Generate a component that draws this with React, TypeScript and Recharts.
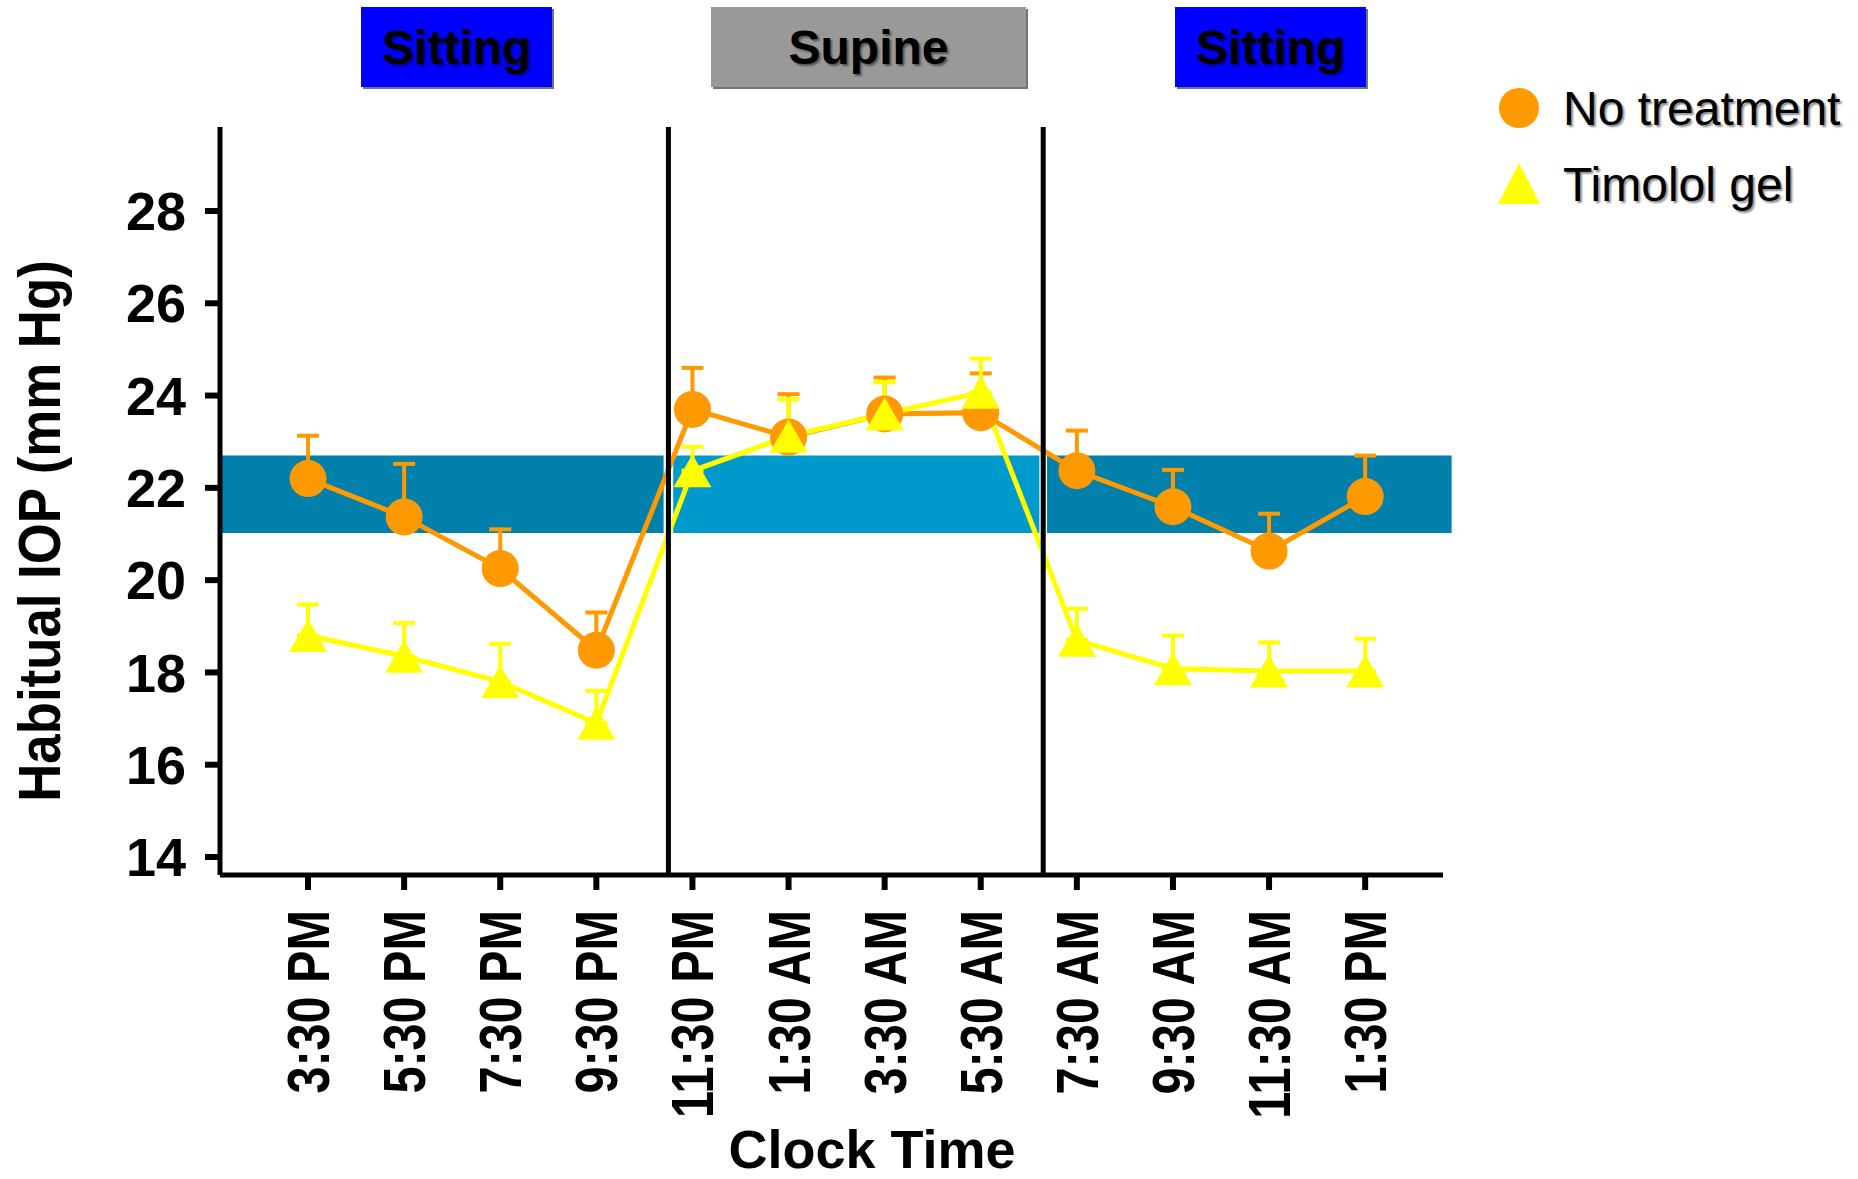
import React from 'react';
import {
  LineChart, Line, XAxis, YAxis, ErrorBar, ReferenceArea, ReferenceLine, Label,
} from 'recharts';

const FONT = 'Arial, "Liberation Sans", Helvetica, sans-serif';
const ORANGE = '#FF9900';
const YELLOW = '#FFFF00';

const timeLabels = [
  '3:30 PM', '5:30 PM', '7:30 PM', '9:30 PM', '11:30 PM', '1:30 AM',
  '3:30 AM', '5:30 AM', '7:30 AM', '9:30 AM', '11:30 AM', '1:30 PM',
];
const noTreatment = [22.2, 21.37, 20.25, 18.48, 23.7, 23.1, 23.6, 23.63, 22.37, 21.59, 20.63, 21.81];
const noTreatmentSem = [0.93, 1.15, 0.85, 0.82, 0.9, 0.93, 0.79, 0.85, 0.87, 0.8, 0.81, 0.89];
const timolol = [18.8, 18.35, 17.8, 16.9, 22.37, 23.12, 23.6, 24.07, 18.7, 18.08, 18.03, 18.03];
const timololSem = [0.67, 0.72, 0.82, 0.7, 0.52, 0.8, 0.69, 0.73, 0.68, 0.72, 0.62, 0.7];
const yTicks = [14, 16, 18, 20, 22, 24, 26, 28];

// posture periods, in x index units
const separators = [3.75, 7.65];
const bands = [
  { x1: -0.916, x2: 3.7, fill: '#0080AA' },
  { x1: 3.8, x2: 7.61, fill: '#0099CC' },
  { x1: 7.69, x2: 11.9, fill: '#0080AA' },
];
const normalRange = [21.02, 22.7];

const headers = [
  { text: 'Sitting', left: 361, width: 191, bg: '#0000FF' },
  { text: 'Supine', left: 711, width: 315, bg: '#999999' },
  { text: 'Sitting', left: 1175, width: 191, bg: '#0000FF' },
];

const data = timeLabels.map((t, i) => ({
  idx: i,
  label: t,
  nt: noTreatment[i],
  ntErr: [0, noTreatmentSem[i]],
  tg: timolol[i],
  tgErr: [0, timololSem[i]],
}));

const TriangleDot = (props: any) => {
  const { cx, cy, index } = props;
  if (cx == null || cy == null) return null;
  const w = 38;
  const h = 33;
  return (
    <polygon
      key={`tri-${index}`}
      points={`${cx},${cy - h / 2} ${cx - w / 2},${cy + h / 2} ${cx + w / 2},${cy + h / 2}`}
      fill={YELLOW}
    />
  );
};

const TimeTick = (props: any) => {
  const { x, y, payload } = props;
  return (
    <g transform={`translate(${x},${y})`}>
      <text
        transform="rotate(-90) scale(0.81,1)"
        x={0}
        y={21}
        textAnchor="end"
        fontSize={60}
        fontWeight="bold"
        fontFamily={FONT}
        fill="#000"
      >
        {timeLabels[payload.value]}
      </text>
    </g>
  );
};

const textShadow = '2px 2px 2px rgba(0,0,0,0.45)';

export default function App() {
  return (
    <div style={{ position: 'absolute', left: 0, top: 0, width: 1858, height: 1179, overflow: 'hidden', background: '#fff' }}>
      <LineChart
        width={1858}
        height={1179}
        data={data}
        margin={{ top: 127, right: 415, bottom: 0, left: 0 }}
      >
        {bands.map((b, i) => (
          <ReferenceArea
            key={i}
            x1={b.x1}
            x2={b.x2}
            y1={normalRange[0]}
            y2={normalRange[1]}
            fill={b.fill}
            fillOpacity={1}
            stroke="none"
            ifOverflow="visible"
          />
        ))}
        <XAxis
          type="number"
          dataKey="idx"
          domain={[-0.916, 11.81]}
          ticks={timeLabels.map((_, i) => i)}
          allowDataOverflow
          height={304}
          interval={0}
          tickSize={15}
          tickMargin={20}
          axisLine={{ stroke: '#000', strokeWidth: 5 }}
          tickLine={{ stroke: '#000', strokeWidth: 6 }}
          tick={<TimeTick />}
        >
          <Label
            content={() => (
              <text x={872} y={1168} textAnchor="middle" fontSize={54} fontWeight="bold" fontFamily={FONT} fill="#000">
                Clock Time
              </text>
            )}
          />
        </XAxis>
        <YAxis
          type="number"
          domain={[13.61, 29.82]}
          ticks={yTicks}
          allowDataOverflow
          width={220}
          interval={0}
          tickSize={15}
          tickMargin={19}
          axisLine={{ stroke: '#000', strokeWidth: 5 }}
          tickLine={{ stroke: '#000', strokeWidth: 6 }}
          tick={{ fill: '#000', fontSize: 54, fontWeight: 'bold', fontFamily: FONT }}
        >
          <Label
            content={() => (
              <text
                transform="translate(60,531) rotate(-90) scale(0.88,1)"
                x={0}
                y={0}
                textAnchor="middle"
                fontSize={60}
                fontWeight="bold"
                fontFamily={FONT}
                fill="#000"
              >
                Habitual IOP (mm Hg)
              </text>
            )}
          />
        </YAxis>
        <Line
          dataKey="nt"
          name="No treatment"
          stroke={ORANGE}
          strokeWidth={5}
          dot={{ r: 18.5, fill: ORANGE, stroke: 'none' }}
          activeDot={false}
          isAnimationActive={false}
        >
          <ErrorBar dataKey="ntErr" direction="y" width={11} stroke={ORANGE} strokeWidth={4} isAnimationActive={false} />
        </Line>
        <Line
          dataKey="tg"
          name="Timolol gel"
          stroke={YELLOW}
          strokeWidth={5}
          dot={TriangleDot}
          activeDot={false}
          isAnimationActive={false}
        >
          <ErrorBar dataKey="tgErr" direction="y" width={11} stroke={YELLOW} strokeWidth={4} isAnimationActive={false} />
        </Line>
        {separators.map((x, i) => (
          <ReferenceLine key={i} x={x} stroke="#000" strokeWidth={5} />
        ))}
      </LineChart>

      {headers.map((h, i) => (
        <div
          key={i}
          style={{
            position: 'absolute',
            left: h.left,
            top: 7,
            width: h.width,
            height: 80,
            background: h.bg,
            boxShadow: '2px 2px 0 rgba(0,0,0,0.55)',
            display: 'flex',
            alignItems: 'center',
            justifyContent: 'center',
            fontFamily: FONT,
            fontWeight: 'bold',
            fontSize: 48,
            color: '#000',
            textShadow,
          }}
        >
          {h.text}
        </div>
      ))}

      <div style={{ position: 'absolute', left: 1496, top: 80, fontFamily: FONT, fontSize: 48, color: '#000', textShadow }}>
        <div style={{ display: 'flex', alignItems: 'center', height: 56 }}>
          <svg width={46} height={46} style={{ marginRight: 21 }}>
            <circle cx={23} cy={23} r={20} fill={ORANGE} />
          </svg>
          <span>No treatment</span>
        </div>
        <div style={{ display: 'flex', alignItems: 'center', height: 56, marginTop: 20 }}>
          <svg width={46} height={46} style={{ marginRight: 21 }}>
            <polygon points="23,2 2,43 44,43" fill={YELLOW} />
          </svg>
          <span>Timolol gel</span>
        </div>
      </div>
    </div>
  );
}
